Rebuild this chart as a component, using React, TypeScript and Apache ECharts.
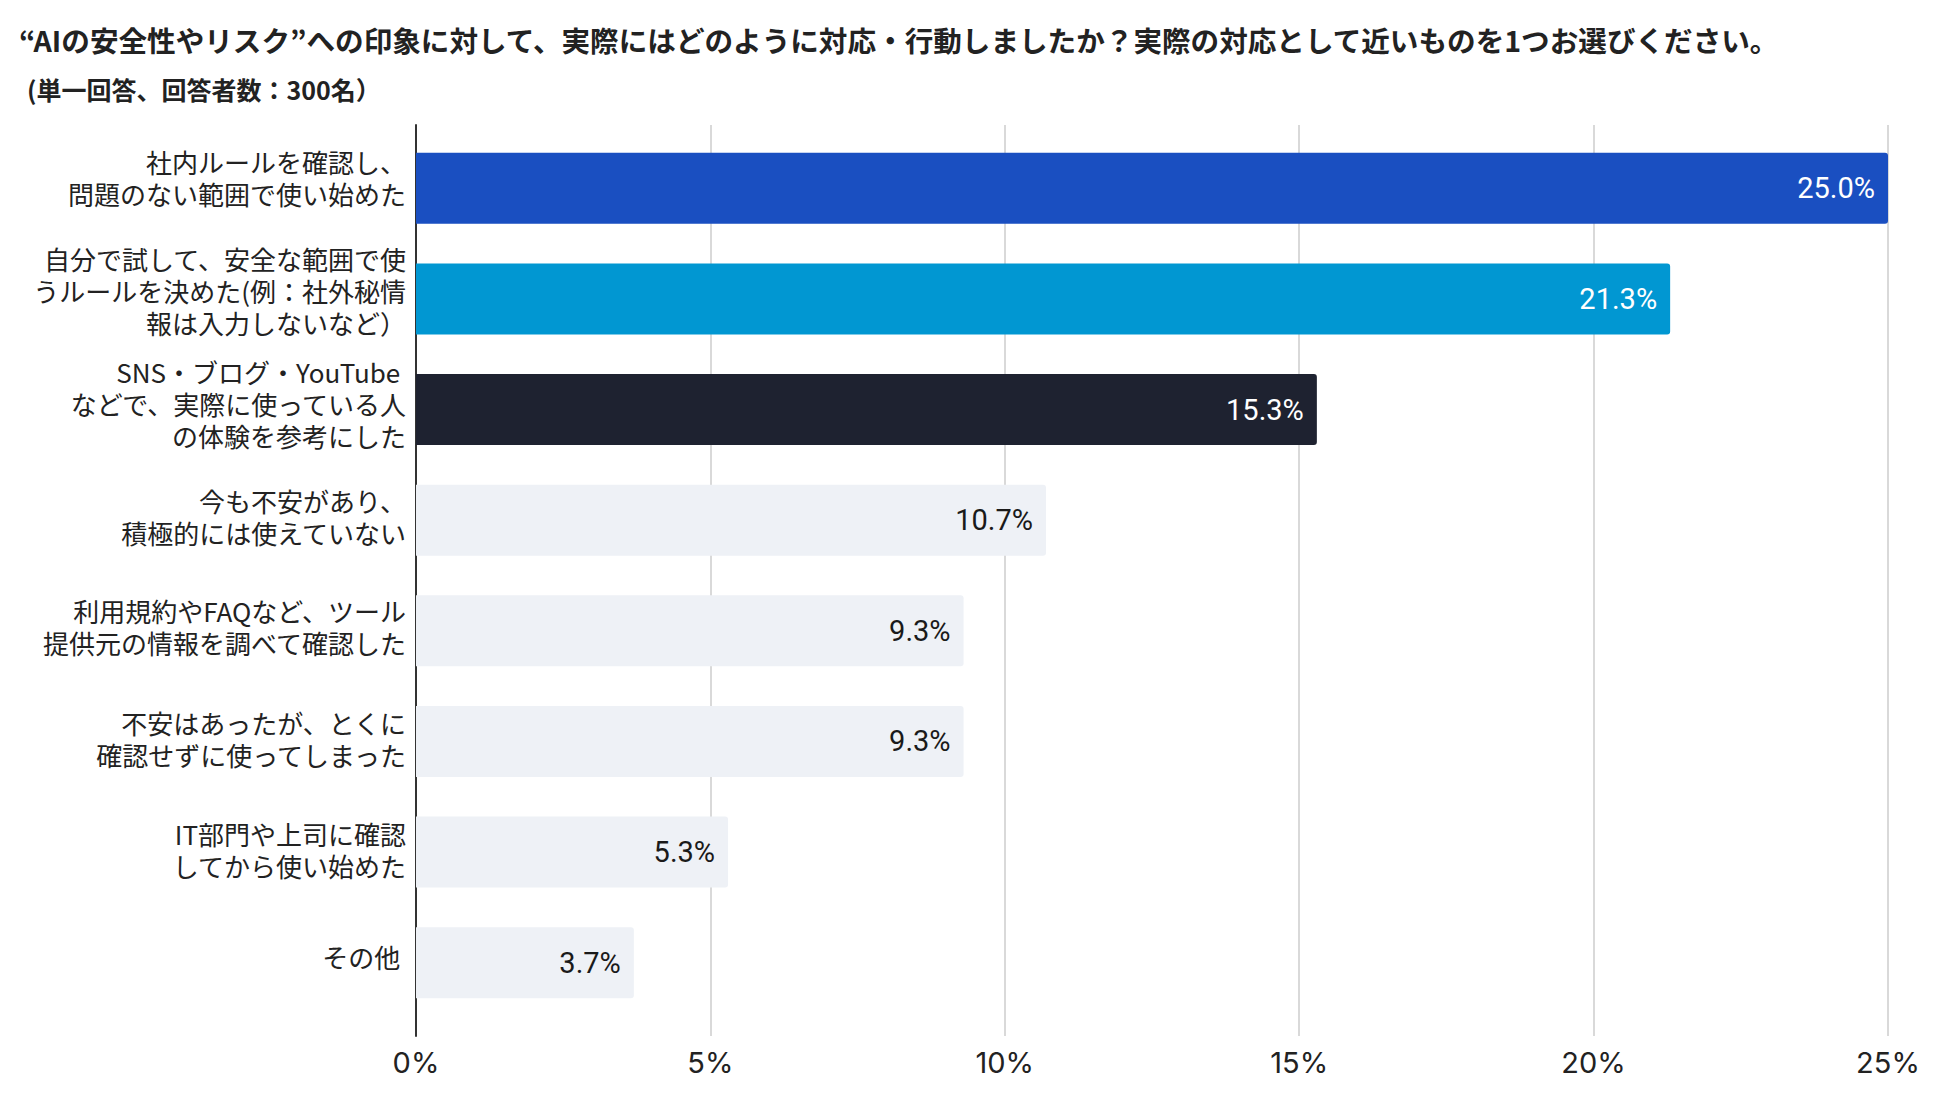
import React, { useEffect, useRef } from "react";
import * as echarts from "echarts";

const titleText =
  "“AIの安全性やリスク”への印象に対して、実際にはどのように対応・行動しましたか？実際の対応として近いものを1つお選びください。";
const subtitleText = "(単一回答、回答者数：300名）";

const categories = [
  "社内ルールを確認し、\n問題のない範囲で使い始めた",
  "自分で試して、安全な範囲で使\nうルールを決めた(例：社外秘情\n報は入力しないなど）",
  "SNS・ブログ・YouTube \nなどで、実際に使っている人\nの体験を参考にした",
  "今も不安があり、\n積極的には使えていない",
  "利用規約やFAQなど、ツール\n提供元の情報を調べて確認した",
  "不安はあったが、とくに\n確認せずに使ってしまった",
  "IT部門や上司に確認\nしてから使い始めた",
  "その他 ",
];
const values = [25.0, 21.3, 15.3, 10.7, 9.3, 9.3, 5.3, 3.7];
const barColors = ["#1a4fc1", "#0197d2", "#1e2230", "#eef1f6", "#eef1f6", "#eef1f6", "#eef1f6", "#eef1f6"];
const labelColors = ["#ffffff", "#ffffff", "#ffffff", "#1a1a1a", "#1a1a1a", "#1a1a1a", "#1a1a1a", "#1a1a1a"];
const labelLift = [11, 8, 6, 4, 4, 3, 3, 6];
const xTicks = [0, 5, 10, 15, 20, 25];

const JP = "'Noto Sans CJK JP', 'Noto Sans', sans-serif";

export default function App() {
  const ref = useRef<HTMLDivElement>(null);
  useEffect(() => {
    if (!ref.current) return;
    const chart = echarts.init(ref.current, undefined, { renderer: "svg" });
    const rich: Record<string, any> = {
      a: { fontFamily: JP, fontSize: 26, lineHeight: 32, color: "#222222", align: "right" },
    };
    labelLift.forEach((l, i) => {
      rich["s" + i] = { fontSize: 1, lineHeight: l * 2, align: "right" };
    });
    chart.setOption({
      animation: false,
      backgroundColor: "#ffffff",
      title: [
        {
          text: titleText,
          left: 14,
          top: 20,
          textStyle: { fontFamily: JP, fontSize: 28.6, fontWeight: "bold", color: "#222222" },
        },
        {
          text: subtitleText,
          left: 22,
          top: 71,
          textStyle: { fontFamily: JP, fontSize: 25, fontWeight: "bold", color: "#222222" },
        },
      ],
      grid: [
        { left: 416, right: 62, top: 125, height: 911 },
        { left: 416, right: 62, top: 133, height: 885 },
      ],
      xAxis: [
        {
          type: "value",
          gridIndex: 0,
          min: xTicks[0],
          max: xTicks[xTicks.length - 1],
          interval: 5,
          axisLine: { show: false },
          axisTick: { show: false },
          splitLine: { show: true, lineStyle: { color: "#cccccc", width: 1.5 } },
          axisLabel: {
            formatter: (v: number) => `${v}%`,
            fontFamily: "Inter, Lato, sans-serif",
            fontSize: 29,
            color: "#222222",
            margin: 12,
          },
        },
        {
          type: "value",
          gridIndex: 1,
          min: xTicks[0],
          max: xTicks[xTicks.length - 1],
          show: false,
        },
      ],
      yAxis: [
        {
          type: "category",
          gridIndex: 0,
          data: categories,
          inverse: true,
          axisLine: { show: true, lineStyle: { color: "#333333", width: 2 } },
          axisTick: { show: false },
          axisLabel: { show: false },
          splitLine: { show: false },
        },
        {
          type: "category",
          gridIndex: 1,
          data: categories,
          inverse: true,
          axisLine: { show: false },
          axisTick: { show: false },
          axisLabel: {
            fontFamily: JP,
            fontSize: 26,
            lineHeight: 32,
            color: "#222222",
            align: "right",
            margin: 10,
            formatter: (val: string, idx: number) =>
              val
                .split("\n")
                .map((l) => `{a|${l}}`)
                .join("\n") + `\n{s${idx}| }`,
            rich,
          },
        },
      ],
      series: [
        {
          type: "bar",
          xAxisIndex: 1,
          yAxisIndex: 1,
          barWidth: 71,
          data: values.map((v, i) => ({
            value: v,
            itemStyle: { color: barColors[i], borderRadius: [0, 3, 3, 0] },
            label: { color: labelColors[i] },
          })),
          label: {
            show: true,
            position: "insideRight",
            distance: 13,
            fontFamily: "Roboto, sans-serif",
            fontSize: 29,
            formatter: (p: any) => `${Number(p.value).toFixed(1)}%`,
          },
        },
      ],
    });
    return () => chart.dispose();
  }, []);
  return (
    <div
      ref={ref}
      style={{ position: "absolute", left: 0, top: 0, width: 1950, height: 1097, background: "#fff" }}
    />
  );
}
